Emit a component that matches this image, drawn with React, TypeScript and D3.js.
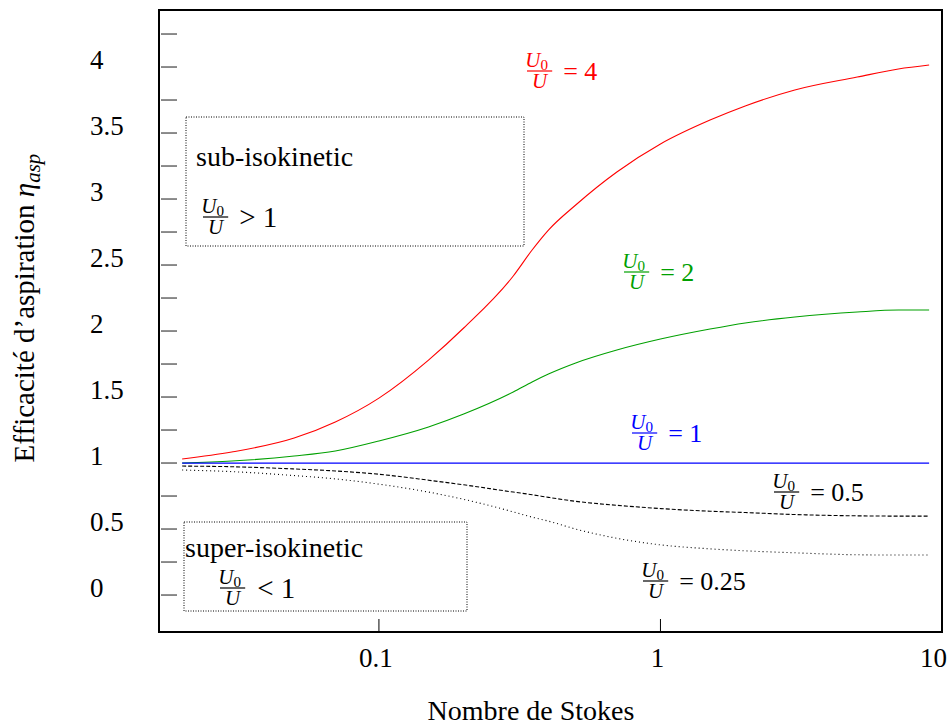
import React from 'react';
import * as d3 from 'd3';

const W = 949, H = 725;
const FONT = '"Liberation Serif", "DejaVu Serif", serif';

const stokes = [0.02, 0.03, 0.05, 0.07, 0.1, 0.15, 0.2, 0.3, 0.35, 0.4, 0.5, 0.7, 1, 1.5, 2, 3, 5, 7, 9];
const etaR4 = [1.03, 1.083, 1.189, 1.311, 1.492, 1.78, 2.023, 2.417, 2.614, 2.765, 2.955, 3.205, 3.417, 3.598, 3.705, 3.826, 3.924, 3.985, 4.015];
const etaR2 = [1.0, 1.015, 1.053, 1.091, 1.167, 1.273, 1.371, 1.538, 1.614, 1.674, 1.758, 1.856, 1.939, 2.015, 2.061, 2.106, 2.144, 2.159, 2.159];
const etaR1 = [1, 1, 1, 1, 1, 1, 1, 1, 1, 1, 1, 1, 1, 1, 1, 1, 1, 1, 1];
const etaR05 = [0.977, 0.972, 0.955, 0.94, 0.915, 0.87, 0.835, 0.78, 0.76, 0.74, 0.71, 0.68, 0.655, 0.635, 0.625, 0.61, 0.60, 0.598, 0.598];
const etaR025 = [0.947, 0.935, 0.905, 0.88, 0.84, 0.78, 0.725, 0.63, 0.59, 0.56, 0.50, 0.43, 0.38, 0.35, 0.335, 0.32, 0.305, 0.303, 0.303];

const yTickValues = [0, 0.25, 0.5, 0.75, 1, 1.25, 1.5, 1.75, 2, 2.25, 2.5, 2.75, 3, 3.25, 3.5, 3.75, 4, 4.25];
const yLabelValues = [0, 0.5, 1, 1.5, 2, 2.5, 3, 3.5, 4];
const xTickValues = [0.1, 1, 10];
const xTickLabels = ['0.1', '1', '10'];

const series = [
  { vals: etaR4, color: '#ff0000', dash: null, w: 1.1 },
  { vals: etaR2, color: '#00a000', dash: null, w: 1.1 },
  { vals: etaR1, color: '#0000ff', dash: null, w: 1.3 },
  { vals: etaR05, color: '#000000', dash: '4,2', w: 1.1 },
  { vals: etaR025, color: '#000000', dash: '1,3', w: 1.1 },
];

const L = 159, R = 942, T = 10, B = 632;

const x = d3.scaleLog().domain([0.01655, 10]).range([L, R]);
const y = d3.scaleLinear().domain([-0.28, 4.432]).range([B, T]);

function Frac({ fx, fy, color, rhs, size = 21, rsize = 26, gap = 11 }) {
  const w = size * 1.2;
  return (
    <g fill={color} fontFamily={FONT}>
      <text x={fx + w / 2 - 3} y={fy - 4} fontSize={size} textAnchor="middle">
        <tspan fontStyle="italic">U</tspan>
        <tspan fontSize={size * 0.72} dy={3}>0</tspan>
      </text>
      <line x1={fx} x2={fx + w} y1={fy} y2={fy} stroke={color} strokeWidth={1.2} />
      <text x={fx + w / 2} y={fy + size * 0.8} fontSize={size} textAnchor="middle" fontStyle="italic">U</text>
      <text x={fx + w + gap} y={fy + rsize * 0.33} fontSize={rsize}>{rhs}</text>
    </g>
  );
}

export default function App() {
  const line = d3.line<number>()
    .x((_, i) => x(stokes[i]))
    .y((v) => y(v))
    .curve(d3.curveMonotoneX);

  return (
    <svg width={W} height={H} style={{ position: 'absolute', left: 0, top: 0, background: '#fff' }}>
      <rect x={0} y={0} width={W} height={H} fill="#fff" />
      {yTickValues.map((v) => (
        <line key={'yt' + v} x1={L + 2} x2={L + 18} y1={y(v)} y2={y(v)} stroke="#666" strokeWidth={1.5} />
      ))}
      {yLabelValues.map((v) => (
        <text key={'yl' + v} x={90} y={y(v) + 2} fontSize={27} fontFamily={FONT} fill="#000">{String(v)}</text>
      ))}
      {xTickValues.map((v, i) => (
        <g key={'xt' + v}>
          {v < 10 && <line x1={x(v)} x2={x(v)} y1={B} y2={B - 13} stroke="#000" strokeWidth={1} />}
          <text x={v < 10 ? x(v) - 3 : x(v) + 5} y={667} fontSize={27} fontFamily={FONT}
            textAnchor={v < 10 ? 'middle' : 'end'}>{xTickLabels[i]}</text>
        </g>
      ))}
      {series.map((s, i) => (
        <path key={'s' + i} d={line(s.vals) || ''} fill="none" stroke={s.color} strokeWidth={s.w}
          strokeDasharray={s.dash || undefined} />
      ))}
      <rect x={L} y={T} width={R - L} height={B - T} fill="none" stroke="#000" strokeWidth={2} />
      <rect x={186} y={117} width={338} height={129} fill="none" stroke="#000" strokeWidth={1} strokeDasharray="1,1.5" />
      <text x={196} y={166} fontSize={28} fontFamily={FONT}>sub-isokinetic</text>
      <Frac fx={203} fy={217} color="#000" rhs="> 1" size={21} rsize={29} gap={11} />
      <rect x={184} y={522} width={283} height={89} fill="none" stroke="#000" strokeWidth={1} strokeDasharray="1,1.5" />
      <text x={185} y={557} fontSize={28} fontFamily={FONT}>super-isokinetic</text>
      <Frac fx={220} fy={588} color="#000" rhs="< 1" size={21} rsize={29} gap={12} />
      <Frac fx={527} fy={71} color="#ff0000" rhs="= 4" />
      <Frac fx={624} fy={272} color="#00a000" rhs="= 2" />
      <Frac fx={632} fy={433} color="#0000ff" rhs="= 1" />
      <Frac fx={774} fy={492} color="#000" rhs="= 0.5" />
      <Frac fx={643} fy={581} color="#000" rhs="= 0.25" />
      <text x={531} y={720} fontSize={28} fontFamily={FONT} textAnchor="middle">Nombre de Stokes</text>
      <text transform={`translate(34,308) rotate(-90)`} fontSize={29} fontFamily={FONT} textAnchor="middle">
        Efficacité d’aspiration <tspan fontStyle="italic">η</tspan>
        <tspan fontStyle="italic" fontSize={21} dy={6}>asp</tspan>
      </text>
    </svg>
  );
}
